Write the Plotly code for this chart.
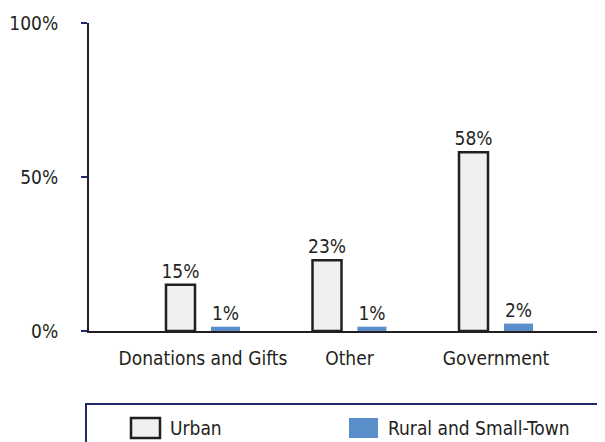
import plotly.graph_objects as go

categories = ["Donations and Gifts", "Other", "Government"]
series_names = ["Urban", "Rural and Small-Town"]
urban = [15, 23, 58]
rural = [1.4, 1.4, 2.4]
y_tick_vals = [0, 50, 100]
y_tick_text = ["0%", "50%", "100%"]

FONT = "DejaVu Sans Condensed, Liberation Sans Narrow, sans-serif"
FS = 19
TXT = "#231f20"
NAVY = "#1f2a6e"
URBAN_FILL = "#f0f0f0"
RURAL_FILL = "#5b8fcc"

OFF = 8  # page body margin
W, H = 605 - OFF, 442 - OFF
ML, MR, MT = 89 - OFF, 0, 23 - OFF
MB = H - (331 - OFF)

fig = go.Figure()
fig.add_trace(go.Bar(
    x=categories, y=urban, name=series_names[0],
    marker=dict(color=URBAN_FILL, line=dict(color=TXT, width=2.5)),
    texttemplate="%{y:.0f}%", textposition="outside", cliponaxis=False,
    constraintext="none",
    textfont=dict(family=FONT, size=FS, color=TXT),
))
fig.add_trace(go.Bar(
    x=categories, y=rural, name=series_names[1],
    marker=dict(color=RURAL_FILL, line=dict(width=0)),
    texttemplate="%{y:.0f}%", textposition="outside", cliponaxis=False,
    constraintext="none",
    textfont=dict(family=FONT, size=FS, color=TXT),
))

# page-pixel -> paper helpers for the legend box (layout only)
pw = W - ML - MR
ph = H - MT - MB
def px(xp):
    return (xp - OFF - ML) / pw
def py(yp):
    return (H - MB - (yp - OFF)) / ph

shapes = [dict(type="rect", xref="paper", yref="paper",
               x0=px(86), x1=px(640), y0=py(404), y1=py(480),
               line=dict(color=NAVY, width=2), fillcolor="rgba(0,0,0,0)")]
annotations = []
swatch_left = [131, 349]
styles = [dict(fill=URBAN_FILL, line=dict(color=TXT, width=2.5)),
          dict(fill=RURAL_FILL, line=dict(width=0))]
for name, xl, st in zip(series_names, swatch_left, styles):
    shapes.append(dict(type="rect", xref="paper", yref="paper",
                       x0=px(xl), x1=px(xl + 29), y0=py(438), y1=py(418),
                       fillcolor=st["fill"], line=st["line"]))
    annotations.append(dict(text=name, xref="paper", yref="paper",
                            x=px(xl + 37), y=py(428), xanchor="left", yanchor="middle",
                            showarrow=False, font=dict(family=FONT, size=FS, color=TXT)))

fig.update_layout(
    width=W, height=H,
    margin=dict(l=ML, r=MR, t=MT, b=MB),
    paper_bgcolor="white", plot_bgcolor="white",
    barmode="group", bargap=0.386, bargroupgap=0.355,
    showlegend=False,
    font=dict(family=FONT, size=FS, color=TXT),
    shapes=shapes, annotations=annotations,
    xaxis=dict(range=[-0.778, 2.744], showgrid=False, zeroline=False,
               showline=True, linecolor=TXT, linewidth=2, ticks="",
               ticklabelstandoff=9,
               tickfont=dict(family=FONT, size=FS, color=TXT)),
    yaxis=dict(range=[0, 100], tickvals=y_tick_vals, ticktext=y_tick_text,
               showgrid=False, zeroline=False, showline=True, linecolor=TXT,
               linewidth=2, ticks="outside", ticklen=6, tickcolor=NAVY, tickwidth=2,
               ticklabelstandoff=19,
               tickfont=dict(family=FONT, size=FS, color=TXT)),
)

fig.write_html("out.html")
